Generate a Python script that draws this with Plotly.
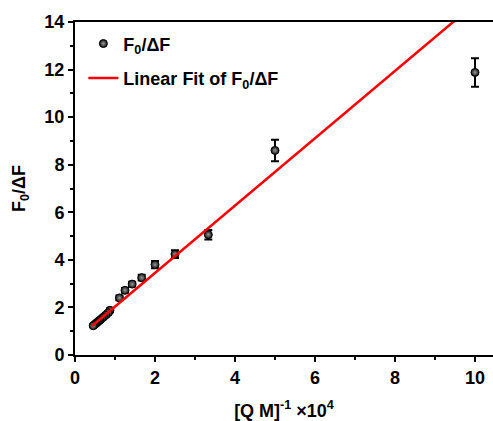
import plotly.graph_objects as go

# Data
x_vals = [10.0, 5.0, 3.333, 2.5, 2.0, 1.667, 1.429, 1.25, 1.111, 0.875, 0.833,
          0.769, 0.714, 0.667, 0.625, 0.588, 0.556, 0.526, 0.5, 0.476, 0.455]
y_vals = [11.88, 8.6, 5.06, 4.24, 3.8, 3.25, 2.98, 2.72, 2.4, 1.88, 1.78,
          1.68, 1.6, 1.53, 1.47, 1.42, 1.37, 1.33, 1.29, 1.26, 1.23]
y_err = [0.6, 0.45, 0.2, 0.16, 0.15, 0.12, 0.1, 0.1, 0.1, 0.08, 0.07,
         0.06, 0.06, 0.06, 0.06, 0.05, 0.05, 0.05, 0.05, 0.05, 0.05]

x_ticks = [0, 2, 4, 6, 8, 10]
y_ticks = [0, 2, 4, 6, 8, 10, 12, 14]

fit_slope = 1.416
fit_intercept = 0.615
fit_x = [min(x_vals) - 0.03, 10.5]
fit_y = [fit_intercept + fit_slope * v for v in fit_x]

FONT = "Liberation Sans, Arial, sans-serif"

fig = go.Figure()
fig.add_trace(go.Scatter(
    x=x_vals, y=y_vals, mode="markers", name="<b>F<sub>0</sub>/ΔF</b>",
    legendgroup="data",
    marker=dict(size=8, color="#111111", line=dict(color="black", width=1),
                gradient=dict(type="radial", color="#9a9a9a")),
    error_y=dict(type="data", array=y_err, color="black", thickness=2, width=4),
))
fig.add_trace(go.Scatter(
    x=fit_x, y=fit_y, mode="lines", name="<b>Linear Fit of F<sub>0</sub>/ΔF</b>",
    legendgroup="fit",
    line=dict(color="red", width=2.5),
))

fig.update_layout(
    width=493, height=421,
    margin=dict(l=75, r=0, t=22, b=66),
    plot_bgcolor="white", paper_bgcolor="white",
    font=dict(family=FONT, size=17, color="black"),
    showlegend=True,
    legend=dict(x=0.02, y=0.99, xanchor="left", yanchor="top",
                bgcolor="rgba(0,0,0,0)", font=dict(size=18),
                tracegroupgap=8),
    xaxis=dict(
        range=[0, 10.45],
        tickvals=x_ticks, ticktext=["<b>%d</b>" % v for v in x_ticks],
        showgrid=False, zeroline=False,
        showline=True, linecolor="black", linewidth=2, mirror=True,
        ticks="outside", ticklen=5, tickwidth=2, tickcolor="black",
        minor=dict(dtick=1, tick0=0, ticks="outside", ticklen=3, tickwidth=2, tickcolor="black"),
        tickfont=dict(size=18),
        title=dict(text="<b>[Q M]<sup>-1</sup> ×10<sup>4</sup></b>", font=dict(size=18), standoff=22),
    ),
    yaxis=dict(
        range=[0, 14],
        tickvals=y_ticks, ticktext=["<b>%d</b>" % v for v in y_ticks],
        showgrid=False, zeroline=False,
        showline=True, linecolor="black", linewidth=2, mirror=False,
        ticks="outside", ticklen=5, tickwidth=2, tickcolor="black",
        minor=dict(dtick=1, tick0=0, ticks="outside", ticklen=3, tickwidth=2, tickcolor="black"),
        tickfont=dict(size=18),
        title=dict(text="<b>F<sub>0</sub>/ΔF</b>", font=dict(size=18), standoff=14),
    ),
)

fig.write_html("out.html")
